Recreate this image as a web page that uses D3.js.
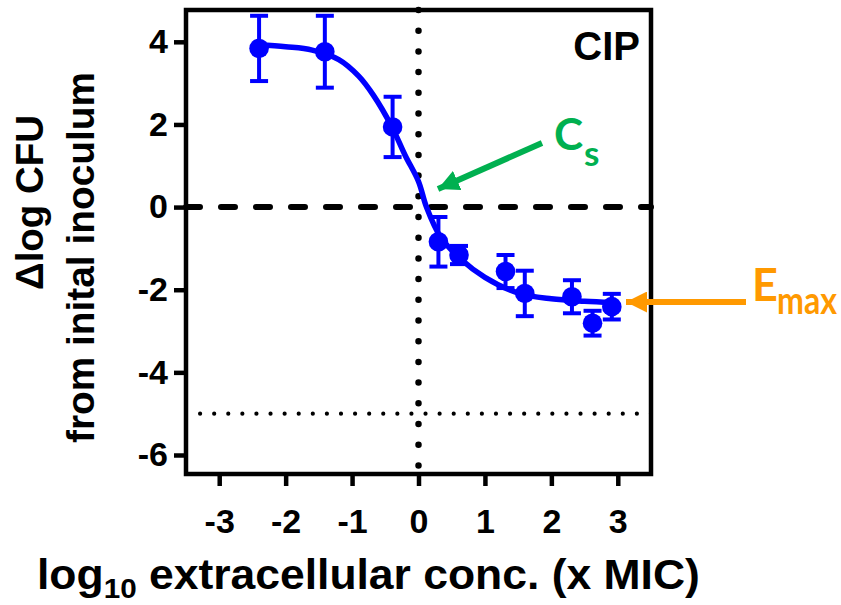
<!DOCTYPE html>
<html><head><meta charset="utf-8">
<script src="https://cdn.jsdelivr.net/npm/d3@7/dist/d3.min.js"></script>
<style>
body{margin:0;background:#fff}
text{font-family:"Liberation Sans",Arial,sans-serif;font-weight:bold}
</style>
</head><body>
<svg id="chart" width="841" height="605"></svg>
<script>
// measured points (log10 x MIC, delta log CFU, SD)
var concX = [-2.40, -1.41, -0.39, 0.30, 0.61, 1.31, 1.60, 2.31, 2.62, 2.91];
var meanY = [3.84, 3.76, 1.94, -0.84, -1.16, -1.56, -2.09, -2.17, -2.81, -2.41];
var errY  = [0.79, 0.87, 0.73, 0.60, 0.22, 0.40, 0.55, 0.40, 0.30, 0.31];

// fitted curve
var fitX = [-2.40, -2.0, -1.6, -1.2, -0.9, -0.68, -0.40, -0.20, 0.0, 0.12, 0.33, 0.63, 1.0, 1.5, 2.0, 2.5, 2.92];
var fitY = [3.93, 3.88, 3.80, 3.57, 3.17, 2.71, 1.94, 1.25, 0.62, 0.0, -0.72, -1.25, -1.70, -2.08, -2.22, -2.28, -2.31];

var xTicks = [-3, -2, -1, 0, 1, 2, 3];
var yTicks = [4, 2, 0, -2, -4, -6];
var xDomain = [-3.5, 3.5];
var yDomain = [-6.46, 4.77];
var killLimit = -5;

var svg = d3.select("#chart");
var plotLeft = 186, plotRight = 651, plotTop = 10, plotBottom = 474;
var x = d3.scaleLinear().domain(xDomain).range([plotLeft, plotRight]);
var y = d3.scaleLinear().domain(yDomain).range([plotBottom, plotTop]);
var blue = "#0000ff";

function drawGuides() {
    // dotted line at x = 0
    svg.append("line")
        .attr("x1", x(0)).attr("x2", x(0))
        .attr("y1", plotTop).attr("y2", plotBottom)
        .style("stroke", "#000").style("stroke-width", 6.5)
        .style("stroke-linecap", "round")
        .style("stroke-dasharray", "0,20.7");
    // dashed line at y = 0
    svg.append("line")
        .attr("x1", plotLeft).attr("x2", plotRight)
        .attr("y1", y(0)).attr("y2", y(0))
        .style("stroke", "#000").style("stroke-width", 6)
        .style("stroke-linecap", "round")
        .style("stroke-dasharray", "14,21");
    // small dots at y = -5
    svg.append("line")
        .attr("x1", plotLeft).attr("x2", plotRight)
        .attr("y1", y(killLimit)).attr("y2", y(killLimit))
        .style("stroke", "#000").style("stroke-width", 4.2)
        .style("stroke-linecap", "round")
        .style("stroke-dasharray", "0,14.09");
}

function drawAxes() {
    var ax = svg.append("g")
        .attr("transform", "translate(0," + plotBottom + ")")
        .call(d3.axisBottom(x).tickValues(xTicks).tickSize(12).tickSizeOuter(0).tickPadding(23)
            .tickFormat(d3.format("d")));
    var ay = svg.append("g")
        .attr("transform", "translate(" + plotLeft + ",0)")
        .call(d3.axisLeft(y).tickValues(yTicks).tickSize(12).tickSizeOuter(0).tickPadding(6)
            .tickFormat(d3.format("d")));
    [ax, ay].forEach(function(a) {
        a.select(".domain").remove();
        a.selectAll(".tick line").style("stroke", "#000").style("stroke-width", 4.5);
        a.selectAll(".tick text")
            .attr("font-family", null)
            .style("font-size", "34px").style("fill", "#000")
            .text(function(d) { return d < 0 ? "-" + Math.abs(d) : d; });
    });
    svg.append("rect")
        .attr("x", plotLeft).attr("y", plotTop)
        .attr("width", plotRight - plotLeft).attr("height", plotBottom - plotTop)
        .style("fill", "none").style("stroke", "#000").style("stroke-width", 4.5);
}

function drawFit() {
    var pts = fitX.map(function(d, i) { return [d, fitY[i]]; });
    svg.append("path")
        .datum(pts)
        .attr("d", d3.line().x(d => x(d[0])).y(d => y(d[1])).curve(d3.curveCatmullRom))
        .style("fill", "none").style("stroke", blue).style("stroke-width", 5.5);
}

function drawPoints() {
    var g = svg.append("g");
    var bars = g.selectAll("g.err").data(concX).enter().append("g").attr("class", "err");
    bars.append("line")
        .attr("x1", d => x(d)).attr("x2", d => x(d))
        .attr("y1", (d, i) => y(meanY[i] + errY[i]))
        .attr("y2", (d, i) => y(meanY[i] - errY[i]));
    bars.append("line")
        .attr("x1", d => x(d) - 9).attr("x2", d => x(d) + 9)
        .attr("y1", (d, i) => y(meanY[i] + errY[i]))
        .attr("y2", (d, i) => y(meanY[i] + errY[i]));
    bars.append("line")
        .attr("x1", d => x(d) - 9).attr("x2", d => x(d) + 9)
        .attr("y1", (d, i) => y(meanY[i] - errY[i]))
        .attr("y2", (d, i) => y(meanY[i] - errY[i]));
    bars.selectAll("line").style("stroke", blue).style("stroke-width", 4);
    g.selectAll("circle").data(concX).enter().append("circle")
        .attr("cx", d => x(d))
        .attr("cy", (d, i) => y(meanY[i]))
        .attr("r", 9.8)
        .style("fill", blue);
}

function drawLabels() {
    svg.append("text")
        .attr("x", 640).attr("y", 60)
        .attr("text-anchor", "end")
        .style("font-size", "40px")
        .text("CIP");

    // y title, two rotated lines
    svg.append("text")
        .attr("transform", "translate(43,290) rotate(-90)")
        .style("font-size", "38px")
        .attr("textLength", 175).attr("lengthAdjust", "spacingAndGlyphs")
        .text("\u0394log CFU");
    svg.append("text")
        .attr("transform", "translate(94,443) rotate(-90)")
        .style("font-size", "38px")
        .attr("textLength", 371).attr("lengthAdjust", "spacingAndGlyphs")
        .text("from inital inoculum");

    // x title, stretched to the width it has in the picture
    var xt = svg.append("text")
        .style("font-size", "42px");
    xt.append("tspan").text("log");
    xt.append("tspan").attr("dy", 9).style("font-size", "28px").text("10");
    xt.append("tspan").attr("dy", -9).text(" extracellular conc. (x MIC)");
    var w = xt.node().getBBox().width;
    xt.attr("transform", "translate(37,589) scale(" + (663 / w) + ",1)");
}

function drawAnnotations() {
    var defs = svg.append("defs");
    [["headG", "#00b050"], ["headO", "#ff9900"]].forEach(function(m) {
        defs.append("marker")
            .attr("id", m[0])
            .attr("markerUnits", "userSpaceOnUse")
            .attr("viewBox", "0 0 20 20")
            .attr("refX", 20).attr("refY", 10)
            .attr("markerWidth", 21).attr("markerHeight", 21)
            .attr("orient", "auto")
            .append("path").attr("d", "M0,0L20,10L0,20Z").style("fill", m[1]);
    });
    svg.append("line")
        .attr("x1", 542).attr("y1", 143).attr("x2", 438).attr("y2", 189)
        .style("stroke", "#00b050").style("stroke-width", 6)
        .attr("marker-end", "url(#headG)");
    svg.append("line")
        .attr("x1", 746).attr("y1", 302).attr("x2", 626).attr("y2", 302)
        .style("stroke", "#ff9900").style("stroke-width", 6)
        .attr("marker-end", "url(#headO)");

    var ann = svg.append("g").style("font-family", "Lato, 'Open Sans', sans-serif");
    ann.append("text").attr("x", 554).attr("y", 150)
        .style("font-family", "inherit").style("font-size", "44px").style("fill", "#00b050").text("C");
    ann.append("text").attr("x", 584).attr("y", 166)
        .style("font-family", "inherit").style("font-size", "35px").style("fill", "#00b050").text("s");
    ann.append("text").attr("x", 752).attr("y", 301)
        .style("font-family", "inherit").style("font-size", "45px").style("fill", "#ff9900").text("E");
    var sub = ann.append("text")
        .style("font-family", "inherit").style("font-size", "32px").style("fill", "#ff9900")
        .text("max");
    var sw = sub.node().getComputedTextLength();
    sub.attr("transform", "translate(777,314) scale(" + (60 / sw) + ",1.2)");
}

drawGuides();
drawAxes();
drawFit();
drawPoints();
drawLabels();
drawAnnotations();
</script>
</body></html>
